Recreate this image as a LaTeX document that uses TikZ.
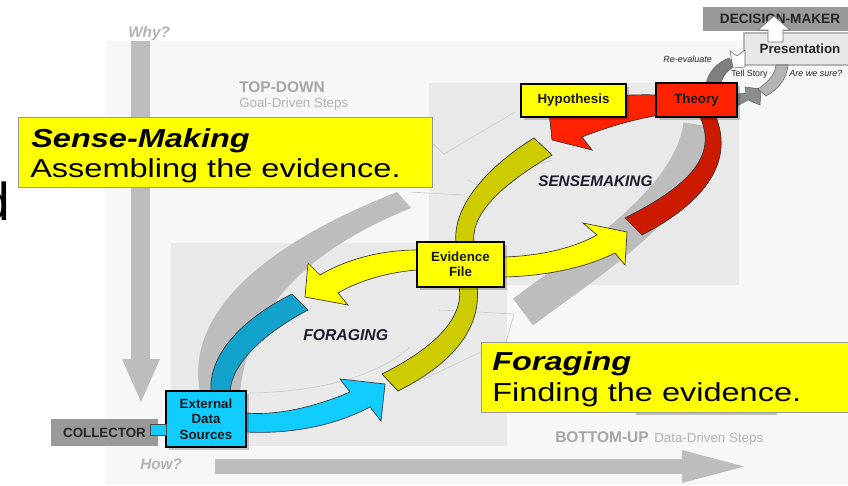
\documentclass[tikz,border=0pt]{standalone}
\usepackage{fontspec}
\setmainfont{Liberation Sans}
\usepackage{graphicx}
\usetikzlibrary{shadows}
\definecolor{bgl}{HTML}{F7F7F7}
\definecolor{reg}{HTML}{E9E9E9}
\definecolor{garr}{HTML}{BDBDBD}
\definecolor{gtxt}{HTML}{B3B3B3}
\definecolor{gtxt2}{HTML}{A6A6A6}
\definecolor{yel}{HTML}{FFFF00}
\definecolor{olive}{HTML}{CCCC00}
\definecolor{redA}{HTML}{FF2200}
\definecolor{redB}{HTML}{CC1A00}
\definecolor{blueA}{HTML}{12A2CC}
\definecolor{blueB}{HTML}{11CCFF}
\definecolor{boxgray}{HTML}{999999}
\definecolor{presfill}{HTML}{E8E8E8}
\definecolor{presline}{HTML}{B5B5B5}
\definecolor{dgA}{HTML}{7F7F7F}
\definecolor{mgA}{HTML}{8C8C8C}
\definecolor{lgA}{HTML}{B4B4B4}
\definecolor{inktxt}{HTML}{1C1C2C}
\tikzset{
  blackbox/.style={draw=black, line width=2.2pt, align=center, inner sep=0pt,
    font=\fontsize{10}{11.5}\selectfont\bfseries, text=black!90,
    drop shadow={shadow xshift=2pt, shadow yshift=-2pt, fill=black, opacity=0.2}},
  callout/.style={draw=black!40, line width=0.6pt, fill=yel, inner sep=0pt},
  band/.style={draw=black!80, line width=0.5pt},
  lbl/.style={anchor=base west, inner sep=0pt},
  faint/.style={draw=black!20, line width=0.5pt},
  smallarr/.style={draw=black!60, line width=0.4pt},
}
\begin{document}
\begin{tikzpicture}[x=0.75pt,y=-0.75pt]
\useasboundingbox (0,0) rectangle (848,485);
\fill[white] (0,0) rectangle (848,485);
\fill[bgl] (106,41) rectangle (848,485);
\fill[reg] (429,83) rectangle (739,285);
\fill[reg] (171,243) rectangle (507,446);

% faint outline arrows
\draw[faint] (431,142) -- (444,154) -- (515,112);
\draw[faint] (410,192) -- (463,195);
\draw[faint] (468,180) -- (477,185) -- (552,160);
\draw[faint] (439,310) -- (514,314) -- (506,342);
\draw[faint] (424,379) -- (481,352);
\draw[faint] (250,393) .. controls (320,392) and (380,375) .. (410,347);

% gray direction arrows
\fill[garr] (131,41) rectangle (150,359);
\fill[garr] (122,359) -- (160,359) -- (141,402) -- cycle;
\fill[garr] (215,459) rectangle (682,474);
\fill[garr] (682,450) -- (744,466.5) -- (682,483) -- cycle;
\fill[garr] (636,400) rectangle (777,415);

% big gray bands
\fill[garr] (200,392) .. controls (186,320) and (250,250) .. (397,192) -- (411,208) .. controls (320,245) and (250,300) .. (240,392) -- cycle;
\draw[garr, line width=25pt] (523,312) .. controls (590,262) and (690,200) .. (700,125);

% coloured loop arrows
\filldraw[band, fill=blueA] (211,392) .. controls (208,350) and (250,315) .. (292,294) -- (308,310) .. controls (270,330) and (232,360) .. (230,392) -- cycle;
\filldraw[band, fill=blueB] (246,413) .. controls (280,416) and (320,405) .. (350,392) -- (340,379) -- (385,384) -- (381,421) -- (370,407) .. controls (330,428) and (285,434) .. (246,432) -- cycle;
\filldraw[band, fill=olive] (459,286) .. controls (465,320) and (430,350) .. (382,374) -- (398,391) .. controls (450,365) and (482,330) .. (477,286) -- cycle;
\filldraw[band, fill=yel] (417,250) .. controls (380,250) and (345,260) .. (320,275) -- (308,263) -- (305,297) -- (348,305) -- (338,293) .. controls (360,280) and (390,272) .. (417,270) -- cycle;
\filldraw[band, fill=olive] (456,243) .. controls (452,205) and (490,165) .. (534,138) -- (552,155) .. controls (510,180) and (470,210) .. (474,243) -- cycle;
\filldraw[band, fill=yel] (504,257) .. controls (535,256) and (570,250) .. (597,235) -- (583,223) -- (627,232) -- (625,265) -- (615,253) .. controls (585,268) and (545,276) .. (504,277) -- cycle;
\filldraw[band, fill=redA] (660,95) .. controls (620,94) and (590,97) .. (568,104) -- (548,102) -- (552,140) -- (592,150) -- (582,137) .. controls (605,128) and (630,120) .. (660,115) -- cycle;
\filldraw[band, fill=redB] (625,218) .. controls (680,190) and (720,160) .. (700,117) -- (716,117) .. controls (735,165) and (700,205) .. (642,235) -- cycle;

% presentation loop arrows
\filldraw[smallarr, fill=dgA] (706,84) .. controls (708,72) and (718,62) .. (729,58) -- (735,66) .. controls (728,70) and (722,76) .. (721,84) -- cycle;
\filldraw[smallarr, fill=mgA] (737,94) -- (746,93) -- (745,87) -- (761,89) -- (760,105) -- (748,100) -- (737,106) -- cycle;

% boxes
\node[blackbox, fill=blueB, minimum width=60pt, minimum height=42pt] (ext) at (206,419) {External\\Data\\Sources};
\node[blackbox, fill=yel, minimum width=65.25pt, minimum height=33.75pt] (evid) at (460.5,264.5) {Evidence\\File};
\node[blackbox, fill=yel, minimum width=78.75pt, minimum height=24.75pt] (hyp) at (573.5,100.5) {Hypothesis};
\node[blackbox, fill=redA, minimum width=60.75pt, minimum height=25.5pt] (theory) at (696.5,100) {Theory};
\node[fill=boxgray, inner sep=0pt, minimum width=80.25pt, minimum height=20.25pt, font=\fontsize{10}{11}\selectfont\bfseries, text=black!85] (coll) at (104.5,432.5) {COLLECTOR};
\node[draw=black!70, line width=0.5pt, fill=blueB, inner sep=0pt, minimum width=12pt, minimum height=8.25pt] (conn) at (158,429.5) {};
\node[fill=boxgray, inner sep=0pt, minimum width=115.5pt, minimum height=18pt, font=\fontsize{10.2}{11}\selectfont\bfseries, text=black!85] (dm) at (780,19) {DECISION-MAKER};
\node[draw=presline, line width=2.2pt, fill=presfill, inner sep=0pt, minimum width=84pt, minimum height=24pt, font=\fontsize{10}{11}\selectfont\bfseries, text=black!85] (pres) at (800,49) {Presentation};

\filldraw[smallarr, fill=lgA] (758,89) .. controls (768,82) and (775,75) .. (776,65) -- (788,65) .. controls (787,78) and (779,89) .. (766,96) -- cycle;
\filldraw[smallarr, fill=white] (730,51) -- (737,56) -- (745,50) -- (745,67) -- (733,68) -- cycle;
\filldraw[draw=black!55, fill=white, line width=0.5pt] (768,42) -- (768,30) -- (758,30) -- (774,16) -- (790,30) -- (783,30) -- (783,42) -- cycle;

% callouts
\node[callout, minimum width=310.5pt, minimum height=52.5pt] (sm) at (225,152) {};
\node[callout, minimum width=291.75pt, minimum height=52.5pt] (fg) at (675.5,377) {};
\node[lbl] (smt) at (31,147) {\fontsize{19.5}{20}\selectfont\bfseries\itshape\scalebox{1.25}[1]{Sense-Making}};
\node[lbl] (sms) at (30,177) {\fontsize{19.5}{20}\selectfont\scalebox{1.25}[1]{Assembling the evidence.}};
\node[lbl] (fgt) at (492,370) {\fontsize{19.5}{20}\selectfont\bfseries\itshape\scalebox{1.25}[1]{Foraging}};
\node[lbl] (fgs) at (492,401) {\fontsize{19.5}{20}\selectfont\scalebox{1.25}[1]{Finding the evidence.}};

% labels
\node[lbl] (dfrag) at (-20,220) {\fontsize{40}{40}\selectfont d};
\node[lbl, text=gtxt] (why) at (128,38) {\fontsize{11.5}{12}\selectfont\bfseries\itshape Why?};
\node[lbl, text=gtxt] (how) at (140,469) {\fontsize{11.5}{12}\selectfont\bfseries\itshape How?};
\node[lbl, text=gtxt2] (td) at (239,92) {\fontsize{11.6}{12}\selectfont\bfseries TOP-DOWN};
\node[lbl, text=gtxt] (tds) at (239,107) {\fontsize{10}{12}\selectfont Goal-Driven Steps};
\node[lbl, text=gtxt2] (bu) at (555,442) {\fontsize{11.6}{12}\selectfont\bfseries BOTTOM-UP};
\node[lbl, text=gtxt] (bus) at (654,442) {\fontsize{10}{12}\selectfont Data-Driven Steps};
\node[lbl, text=inktxt] (smk) at (538,186) {\fontsize{11.5}{12}\selectfont\bfseries\itshape SENSEMAKING};
\node[lbl, text=inktxt] (frg) at (303,340) {\fontsize{11.8}{12}\selectfont\bfseries\itshape FORAGING};
\node[lbl, text=black!85] (reev) at (663,63) {\fontsize{6.75}{7}\selectfont\itshape Re-evaluate};
\node[lbl, text=black!85] (tell) at (731,76) {\fontsize{6.6}{7}\selectfont Tell Story};
\node[lbl, text=black!85] (sure) at (789,76) {\fontsize{6.75}{7}\selectfont\itshape Are we sure?};
\end{tikzpicture}
\end{document}
